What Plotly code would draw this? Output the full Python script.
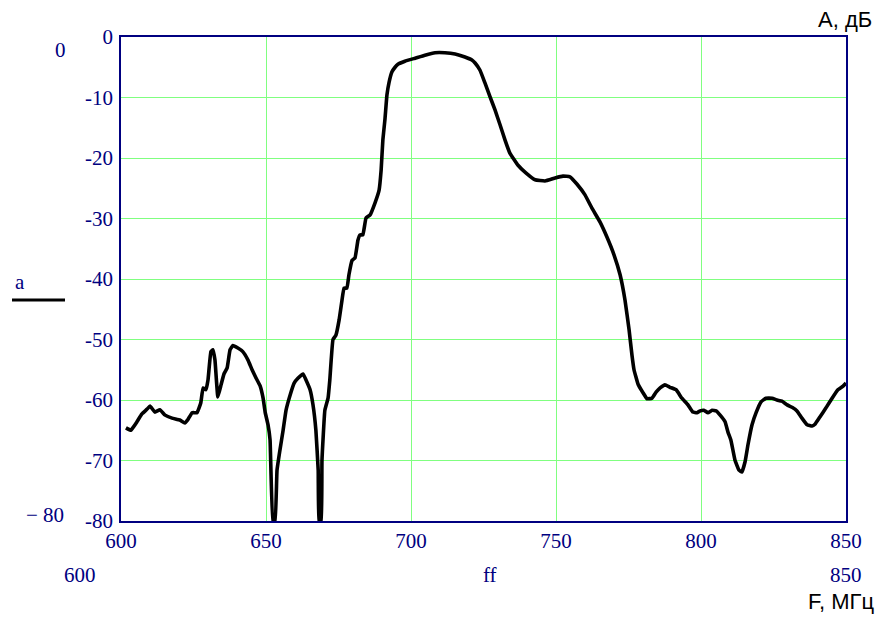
import plotly.graph_objects as go

freq_mhz = [601.7, 603.4, 605.5, 607.2, 609.0, 610.0, 611.7, 613.4, 615.2, 617.6, 620.3, 622.0, 623.0,
            624.5, 626.2, 627.5, 628.3, 629.3, 630.0, 631.0, 631.7, 632.4, 633.4, 634.5, 635.5, 636.6,
            637.6, 638.6, 640.3, 642.0, 643.8, 645.2, 646.6, 648.0, 649.0, 649.7, 650.7, 651.4, 652.4,
            653.1, 653.8, 654.8, 655.9, 656.9, 658.3, 659.7, 661.0, 662.8, 663.8, 665.2, 666.2, 667.2,
            668.0, 668.3, 669.0, 669.3, 670.3, 671.4, 672.0, 673.1, 674.1, 675.2, 676.2, 676.9, 677.9,
            678.6, 679.7, 680.7, 681.7, 682.4, 683.4, 684.5, 685.9, 687.6, 689.0, 689.7, 690.3, 691.0,
            691.7, 692.4, 693.4, 694.5, 695.5, 697.9, 701.4, 704.8, 708.3, 711.7, 715.2, 718.6, 721.0,
            722.1, 723.8, 725.5, 727.2, 729.0, 730.7, 732.4, 734.1, 736.9, 739.7, 742.8, 746.2, 749.7,
            752.4, 754.8, 757.2, 760.0, 762.4, 765.2, 767.6, 770.0, 772.1, 773.8, 775.2, 776.2, 776.9,
            778.3, 780.0, 781.4, 783.1, 784.5, 785.9, 787.6, 789.3, 791.4, 793.4, 795.5, 797.2, 798.6,
            799.7, 801.0, 802.4, 803.8, 805.2, 806.6, 808.3, 809.3, 810.3, 811.7, 813.1, 814.1, 815.2,
            816.2, 817.6, 819.0, 820.7, 822.4, 824.5, 826.2, 827.9, 829.7, 831.4, 833.1, 834.8, 836.6,
            838.3, 839.3, 841.0, 843.1, 845.2, 847.2, 849.0, 850.0]
atten_db = [-64.6, -65.0, -63.6, -62.3, -61.5, -61.0, -62.0, -61.6, -62.5, -63.0, -63.3, -63.8, -63.3,
            -62.1, -62.1, -60.5, -58.0, -58.3, -56.7, -52.0, -51.7, -53.4, -59.5, -57.5, -55.7, -54.7,
            -51.7, -51.0, -51.4, -52.0, -53.4, -55.0, -56.4, -57.7, -59.7, -62.0, -64.1, -66.6, -80.0,
            -80.0, -71.6, -68.3, -65.0, -61.7, -59.2, -57.2, -56.4, -55.7, -56.7, -58.3, -60.8, -65.0,
            -71.6, -80.0, -80.0, -70.0, -61.7, -59.7, -56.7, -50.0, -49.3, -46.8, -43.5, -41.5, -41.5,
            -39.3, -36.9, -36.5, -33.6, -32.7, -32.7, -29.9, -29.4, -27.4, -25.3, -22.0, -17.0, -13.7,
            -9.6, -7.6, -5.8, -5.0, -4.5, -4.0, -3.5, -3.0, -2.6, -2.6, -2.8, -3.3, -3.8,
            -4.3, -5.5, -7.6, -9.8, -12.1, -14.5, -17.0, -19.2, -21.2, -22.5, -23.6, -23.8, -23.3,
            -23.0, -23.1, -24.3, -26.1, -28.3, -30.6, -33.1, -36.0, -39.3, -43.5, -48.4, -52.6, -55.0,
            -57.4, -58.8, -59.8, -59.7, -58.7, -58.0, -57.5, -57.9, -58.3, -59.7, -60.8, -62.0, -62.1,
            -61.8, -61.7, -62.1, -61.7, -61.8, -62.5, -63.6, -65.3, -66.6, -69.9, -71.6, -71.9, -70.2,
            -67.4, -64.1, -62.1, -60.3, -59.7, -59.7, -60.0, -60.2, -60.8, -61.2, -61.8, -63.0, -64.1,
            -64.3, -64.0, -62.8, -61.3, -59.7, -58.3, -57.7, -57.2]

x_ticks = [600, 650, 700, 750, 800, 850]
y_ticks = [0, -10, -20, -30, -40, -50, -60, -70, -80]
y_tick_text = ["0", "-10", "-20", "-30", "-40", "-50", "-60", "-70", "-80"]

NAVY = "#000080"
GRID = "#80ff80"
SERIF = "serif"
SANS = "Liberation Sans, Arial, sans-serif"

fig = go.Figure()
fig.add_trace(go.Scatter(x=freq_mhz, y=atten_db, mode="lines",
                         line=dict(color="black", width=3.6, shape="spline", smoothing=0.3),
                         showlegend=False, hoverinfo="skip"))

OFF = 8  # page body margin
W, H = 889, 617
L, R, T, B = 121, 846, 37, 521


def px(xp):
    return (xp - L) / (R - L)


def py(yp):
    return (B - yp) / (B - T)


fig.update_layout(
    width=W - OFF, height=H - OFF,
    margin=dict(l=L - OFF, r=W - R, t=T - OFF, b=H - B),
    paper_bgcolor="white", plot_bgcolor="white",
    font=dict(family=SERIF),
    xaxis=dict(range=[600, 850], tickvals=x_ticks, ticktext=[str(v) for v in x_ticks],
               showgrid=True, gridcolor=GRID, gridwidth=1, zeroline=False,
               showline=True, linecolor=NAVY, linewidth=1.5, mirror=True,
               ticks="", tickfont=dict(family=SERIF, size=21, color=NAVY)),
    yaxis=dict(range=[-80, 0], tickvals=y_ticks, ticktext=y_tick_text,
               showgrid=True, gridcolor=GRID, gridwidth=1, zeroline=False,
               showline=True, linecolor=NAVY, linewidth=1.5, mirror=True,
               ticks="", ticklabelstandoff=2, tickfont=dict(family=SERIF, size=21, color=NAVY)),
)

anns = [
    ("0", 60, 50, NAVY, SERIF, 21, "center"),
    ("\u2212 80", 45, 515, NAVY, SERIF, 21, "center"),
    ("a", 20, 282, NAVY, SERIF, 21, "center"),
    ("600", 80, 575, NAVY, SERIF, 21, "center"),
    ("ff", 490, 575, NAVY, SERIF, 21, "center"),
    ("850", 846, 575, NAVY, SERIF, 21, "center"),
]
for text, x, y, col, fam, size, al in anns:
    fig.add_annotation(x=px(x), y=py(y), xref="paper", yref="paper", text=text,
                       showarrow=False, font=dict(family=fam, size=size, color=col),
                       xanchor=al, yanchor="middle")

fig.add_annotation(x=px(874), y=py(20), xref="paper", yref="paper", text="А, дБ",
                   showarrow=False, font=dict(family=SANS, size=22, color="black"),
                   xanchor="right", yanchor="middle")
fig.add_annotation(x=px(876), y=py(601), xref="paper", yref="paper", text="F, МГц",
                   showarrow=False, font=dict(family=SANS, size=22, color="black"),
                   xanchor="right", yanchor="middle")

fig.add_shape(type="line", xref="paper", yref="paper", x0=px(12), x1=px(65), y0=py(300), y1=py(300),
              line=dict(color="black", width=3))

fig.write_html("out.html")
